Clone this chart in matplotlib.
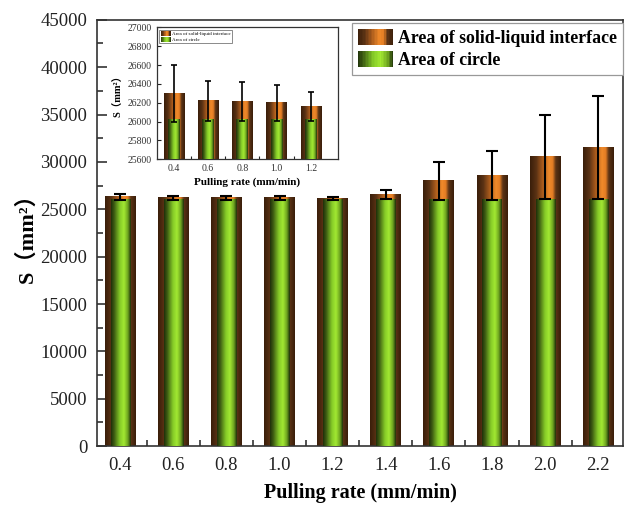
import matplotlib.pyplot as plt
import numpy as np
from matplotlib.colors import LinearSegmentedColormap
from matplotlib.legend_handler import HandlerBase
from matplotlib.patches import Patch, Rectangle

plt.rcParams['font.family'] = ['Liberation Serif', 'Noto Sans CJK SC']

# Pulling rate categories and measured areas (mm^2)
rates = ['0.4', '0.6', '0.8', '1.0', '1.2', '1.4', '1.6', '1.8', '2.0', '2.2']
interface_area = [26300, 26220, 26210, 26195, 26160, 26540, 27970, 28570, 30510, 31500]
interface_err = [300, 210, 205, 190, 155, 480, 1980, 2620, 4450, 5420]
circle_area = [26015] * 10

# zoomed view of the first five rates
n_zoom = 5

# horizontal shading of the bars
orange_cmap = LinearSegmentedColormap.from_list(
    'orange_bar', [(0.0, '#3a1e0a'), (0.2, '#5a3214'), (0.4, '#a85a1c'),
                   (0.62, '#f08a2a'), (0.74, '#e27c24'), (0.84, '#5c3416'),
                   (1.0, '#3a1e0a')])
green_cmap = LinearSegmentedColormap.from_list(
    'green_bar', [(0.0, '#1f300a'), (0.15, '#3c5a12'), (0.45, '#86cc28'),
                  (0.65, '#a2e832'), (0.85, '#6fa620'), (1.0, '#1f300a')])


def shade_bars(ax, bars, cmap, zorder):
    """Replace flat bar faces with a left-to-right gradient"""
    grad = np.linspace(0, 1, 64).reshape(1, -1)
    for rect in bars:
        x, w, h = rect.get_x(), rect.get_width(), rect.get_height()
        y0 = rect.get_y()
        rect.set_visible(False)
        ax.imshow(grad, cmap=cmap, extent=[x, x + w, y0, y0 + h],
                  aspect='auto', interpolation='bilinear', zorder=zorder)


class GradientHandler(HandlerBase):
    def __init__(self, cmap, n=24):
        super().__init__()
        self.cmap = cmap
        self.n = n

    def create_artists(self, legend, orig_handle, xdescent, ydescent,
                       width, height, fontsize, trans):
        strips = []
        for i in range(self.n):
            strips.append(Rectangle((-xdescent + i * width / self.n, -ydescent),
                                    width / self.n * 1.05, height,
                                    facecolor=self.cmap((i + 0.5) / self.n),
                                    edgecolor='none', transform=trans))
        return strips


def draw_bars(ax, x, top, err, base, wide, narrow, capsize, lw):
    b1 = ax.bar(x, top, width=wide, zorder=2)
    b2 = ax.bar(x, base, width=narrow, zorder=3)
    shade_bars(ax, b1, orange_cmap, 2)
    shade_bars(ax, b2, green_cmap, 3)
    ax.errorbar(x, top, yerr=err, fmt='none', ecolor='black', elinewidth=lw,
                capsize=capsize, capthick=lw, zorder=5)


fig = plt.figure(figsize=(6.25, 5.07), dpi=100)

# main chart
ax = fig.add_axes([0.155, 0.12, 0.842, 0.841])
x = np.arange(len(rates))
draw_bars(ax, x, interface_area, interface_err, circle_area, 0.58, 0.36, 4, 1.5)

ax.set_xlim(-0.44, 9.47)
ax.set_ylim(0, 45000)
ax.set_xticks(x)
ax.set_xticklabels(rates)
ax.set_xticks(x[:-1] + 0.5, minor=True)
ax.set_yticks(np.arange(0, 45001, 5000))
ax.set_yticks(np.arange(2500, 45000, 5000), minor=True)
ax.tick_params(which='both', direction='in', labelsize=13.5, width=1.1,
               color='#222222', labelcolor='#222222')
ax.tick_params(which='major', length=7)
ax.tick_params(which='minor', length=4)
ax.tick_params(axis='x', pad=8)
ax.tick_params(axis='y', pad=7)
for s in ax.spines.values():
    s.set_linewidth(1.2)
    s.set_color('#333333')
ax.set_xlabel('Pulling rate (mm/min)', fontsize=14.5, fontweight='bold', labelpad=6)
ax.set_ylabel('S（mm²）', fontsize=16, fontweight='bold', labelpad=2)

h1 = Patch(label='Area of solid-liquid interface')
h2 = Patch(label='Area of circle')
leg = ax.legend(handles=[h1, h2], loc='upper right', bbox_to_anchor=(1.006, 1.0),
                handler_map={h1: GradientHandler(orange_cmap), h2: GradientHandler(green_cmap)},
                prop={'weight': 'bold', 'size': 12.8}, fancybox=False, edgecolor='#999999',
                framealpha=1, handlelength=2.0, handleheight=1.0, handletextpad=0.3,
                labelspacing=0.25, borderpad=0.3, borderaxespad=0.2)
leg.get_frame().set_linewidth(0.9)

# inset chart
ins = fig.add_axes([0.251, 0.686, 0.29, 0.26])
xi = np.arange(n_zoom)
draw_bars(ins, xi, interface_area[:n_zoom], interface_err[:n_zoom], circle_area[:n_zoom],
          0.6, 0.35, 2.5, 1.2)
ins.set_xlim(-0.5, 4.8)
ins.set_ylim(25600, 27000)
ins.set_xticks(xi)
ins.set_xticklabels(rates[:n_zoom])
ins.set_xticks(xi[:-1] + 0.5, minor=True)
ins.set_yticks(np.arange(25600, 27001, 200))
ins.tick_params(which='both', direction='in', labelsize=7, width=0.8,
                color='#222222', labelcolor='#333333')
ins.tick_params(which='major', length=3)
ins.tick_params(which='minor', length=2)
for s in ins.spines.values():
    s.set_linewidth(0.9)
    s.set_color('#333333')
ins.set_xlabel('Pulling rate (mm/min)', fontsize=8, fontweight='bold', labelpad=3)
ins.set_ylabel('S（mm²）', fontsize=7.5, fontweight='bold', labelpad=3)

g1 = Patch(label='Area of solid-liquid interface')
g2 = Patch(label='Area of circle')
ileg = ins.legend(handles=[g1, g2], loc='upper left', bbox_to_anchor=(0.0, 1.0),
                  handler_map={g1: GradientHandler(orange_cmap), g2: GradientHandler(green_cmap)},
                  prop={'size': 3.6}, fancybox=False, edgecolor='#777777', framealpha=1,
                  handlelength=2.0, handleheight=1.2, handletextpad=0.3,
                  labelspacing=0.1, borderpad=0.25)
ileg.get_frame().set_linewidth(0.6)

fig.savefig('out.png', dpi=100)
